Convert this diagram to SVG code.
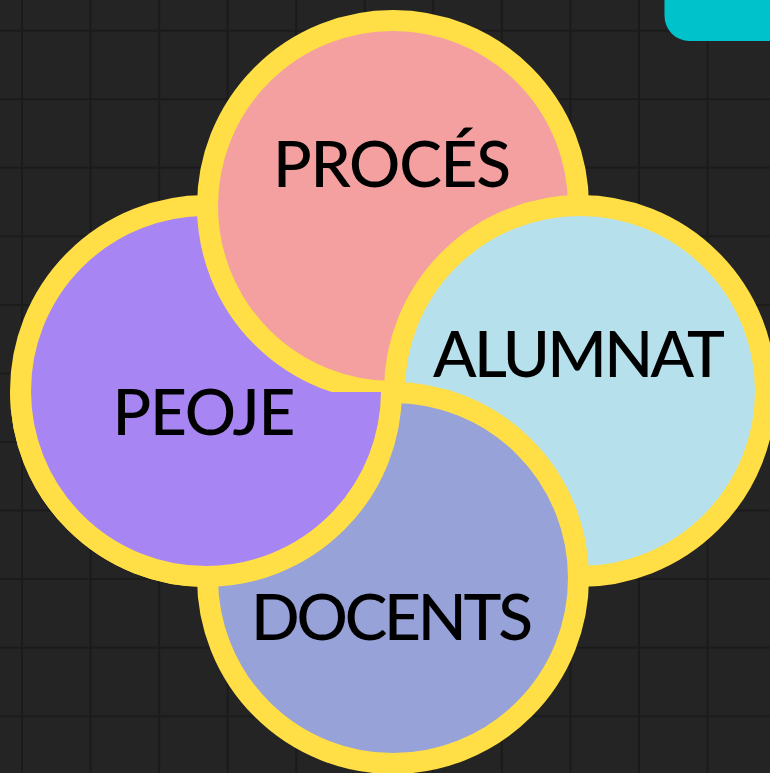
<svg xmlns="http://www.w3.org/2000/svg" xmlns:xlink="http://www.w3.org/1999/xlink" width="770" height="773" viewBox="0 0 770 773">
  <style>
    .ring { stroke: #FFDF45; stroke-width: 21; }
    .lbl { font-family: "Lato", "Liberation Sans", sans-serif; font-size: 64px; font-weight: 500; fill: #000000; text-anchor: middle; }
    .grid { stroke: #1b1b1b; stroke-width: 2; fill: none; }
  </style>
  <defs>
    <clipPath id="lowerClip">
      <rect x="0" y="392" width="770" height="381"/>
    </clipPath>
  </defs>
  <rect x="0" y="0" width="770" height="773" fill="#242424"/>
  <path class="grid" d="M22 0V773M90.55 0V773M159.1 0V773M227.65 0V773M296.2 0V773M364.75 0V773M433.3 0V773M501.85 0V773M570.4 0V773M638.95 0V773M707.5 0V773M0 30.7H770M0 99.25H770M0 167.8H770M0 236.35H770M0 304.9H770M0 373.45H770M0 442H770M0 510.55H770M0 579.1H770M0 647.65H770M0 716.2H770"/>
  <rect x="664.5" y="-30" width="140" height="71" rx="25" fill="#00C2CB"/>

  <g id="node-peoje">
    <circle id="peoje-circle" class="ring" cx="206" cy="391" r="185.5" fill="#A786F4"/>
  </g>
  <g id="node-proces">
    <circle class="ring" cx="393" cy="206" r="185.5" fill="#F4A0A1"/>
    <text class="lbl" x="392" y="187" textLength="238">PROCÉS</text>
  </g>
  <g id="node-alumnat">
    <circle class="ring" cx="580" cy="391" r="185.5" fill="#B5E0EC"/>
    <text class="lbl" x="579" y="377" textLength="292">ALUMNAT</text>
  </g>
  <g id="node-docents">
    <circle class="ring" cx="393" cy="578" r="185.5" fill="#97A2D8"/>
    <text class="lbl" x="392" y="640" textLength="282">DOCENTS</text>
  </g>
  <g id="node-peoje-front">
    <use xlink:href="#peoje-circle" clip-path="url(#lowerClip)"/>
    <text class="lbl" x="204" y="435" textLength="183">PEOJE</text>
  </g>
</svg>
